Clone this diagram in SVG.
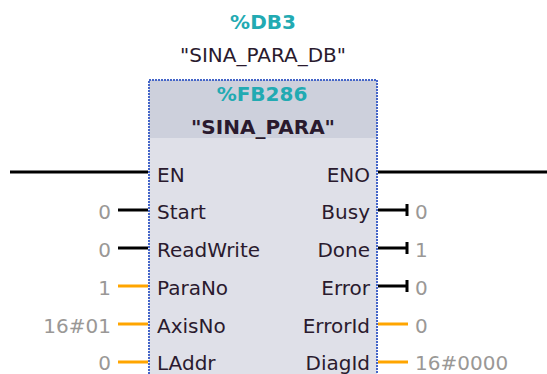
<svg xmlns="http://www.w3.org/2000/svg" width="547" height="374" viewBox="0 0 547 374">
<defs>
<style>
.t{font-family:"DejaVu Sans",sans-serif;font-size:20px;fill:#2a1a2e}
.v{font-family:"DejaVu Sans",sans-serif;font-size:20px;fill:#9a9896}
.teal{font-family:"DejaVu Sans",sans-serif;font-size:20px;fill:#22aab2;font-weight:bold}
.blk{stroke:#000;stroke-width:3;fill:none}
.org{stroke:#ffa500;stroke-width:3;fill:none}
.sep{stroke-width:2}
</style>
<linearGradient id="gl" x1="0" x2="1" y1="0" y2="0"><stop offset="0" stop-color="#fff"/><stop offset="1" stop-color="#fff" stop-opacity="0"/></linearGradient>
<linearGradient id="gr" x1="1" x2="0" y1="0" y2="0"><stop offset="0" stop-color="#fff"/><stop offset="1" stop-color="#fff" stop-opacity="0"/></linearGradient>
</defs>
<g id="instance">
<text class="teal" x="263" y="29" text-anchor="middle">%DB3</text>
<text class="t" x="263" y="62" text-anchor="middle">"SINA_PARA_DB"</text>
</g>
<g id="block">
<rect x="149" y="80" width="228" height="300" fill="#dfe0e8"/>
<rect x="149" y="80" width="228" height="58" fill="#cdd0dc"/>
<rect x="149" y="80" width="228" height="300" fill="none" stroke="#4465c8" stroke-width="2" stroke-dasharray="2 1"/>
<text class="teal" x="262" y="101" text-anchor="middle">%FB286</text>
<text class="t" x="263" y="134" text-anchor="middle" font-weight="bold" fill="#111">"SINA_PARA"</text>
<g fill="none">
<line class="sep" x1="157" y1="190" x2="198" y2="190" stroke="url(#gl)"/>
<line class="sep" x1="157" y1="228" x2="214" y2="228" stroke="url(#gl)"/>
<line class="sep" x1="157" y1="266" x2="268" y2="266" stroke="url(#gl)"/>
<line class="sep" x1="157" y1="304" x2="234" y2="304" stroke="url(#gl)"/>
<line class="sep" x1="157" y1="342" x2="236" y2="342" stroke="url(#gl)"/>
<line class="sep" x1="327" y1="190" x2="372" y2="190" stroke="url(#gr)"/>
<line class="sep" x1="313" y1="228" x2="372" y2="228" stroke="url(#gr)"/>
<line class="sep" x1="310" y1="266" x2="372" y2="266" stroke="url(#gr)"/>
<line class="sep" x1="303" y1="304" x2="372" y2="304" stroke="url(#gr)"/>
<line class="sep" x1="293" y1="342" x2="372" y2="342" stroke="url(#gr)"/>
</g>
<text class="t" x="157" y="182">EN</text>
<text class="t" x="157" y="219">Start</text>
<text class="t" x="157" y="257">ReadWrite</text>
<text class="t" x="157" y="295">ParaNo</text>
<text class="t" x="157" y="333">AxisNo</text>
<text class="t" x="157" y="370">LAddr</text>
<text class="t" x="370" y="182" text-anchor="end">ENO</text>
<text class="t" x="370" y="219" text-anchor="end">Busy</text>
<text class="t" x="370" y="257" text-anchor="end">Done</text>
<text class="t" x="370" y="295" text-anchor="end">Error</text>
<text class="t" x="370" y="333" text-anchor="end">ErrorId</text>
<text class="t" x="370" y="370" text-anchor="end">DiagId</text>
</g>
<g id="connectors">
<line class="blk" x1="10" y1="172" x2="148" y2="172"/>
<line class="blk" x1="378" y1="172" x2="547" y2="172"/>
<line class="blk" x1="118" y1="210" x2="148" y2="210"/>
<line class="blk" x1="118" y1="248" x2="148" y2="248"/>
<line class="org" x1="118" y1="286" x2="148" y2="286"/>
<line class="org" x1="118" y1="324" x2="148" y2="324"/>
<line class="org" x1="118" y1="362" x2="148" y2="362"/>
<path class="blk" d="M378 210H407M407 204V216"/>
<path class="blk" d="M378 248H407M407 242V254"/>
<path class="blk" d="M378 286H407M407 280V292"/>
<line class="org" x1="378" y1="324" x2="408" y2="324"/>
<line class="org" x1="378" y1="362" x2="408" y2="362"/>
</g>
<g id="values">
<text class="v" x="111" y="219" text-anchor="end">0</text>
<text class="v" x="111" y="257" text-anchor="end">0</text>
<text class="v" x="111" y="295" text-anchor="end">1</text>
<text class="v" x="111" y="333" text-anchor="end">16#01</text>
<text class="v" x="111" y="370" text-anchor="end">0</text>
<text class="v" x="415" y="219">0</text>
<text class="v" x="415" y="257">1</text>
<text class="v" x="415" y="295">0</text>
<text class="v" x="415" y="333">0</text>
<text class="v" x="415" y="370">16#0000</text>
</g>
</svg>
